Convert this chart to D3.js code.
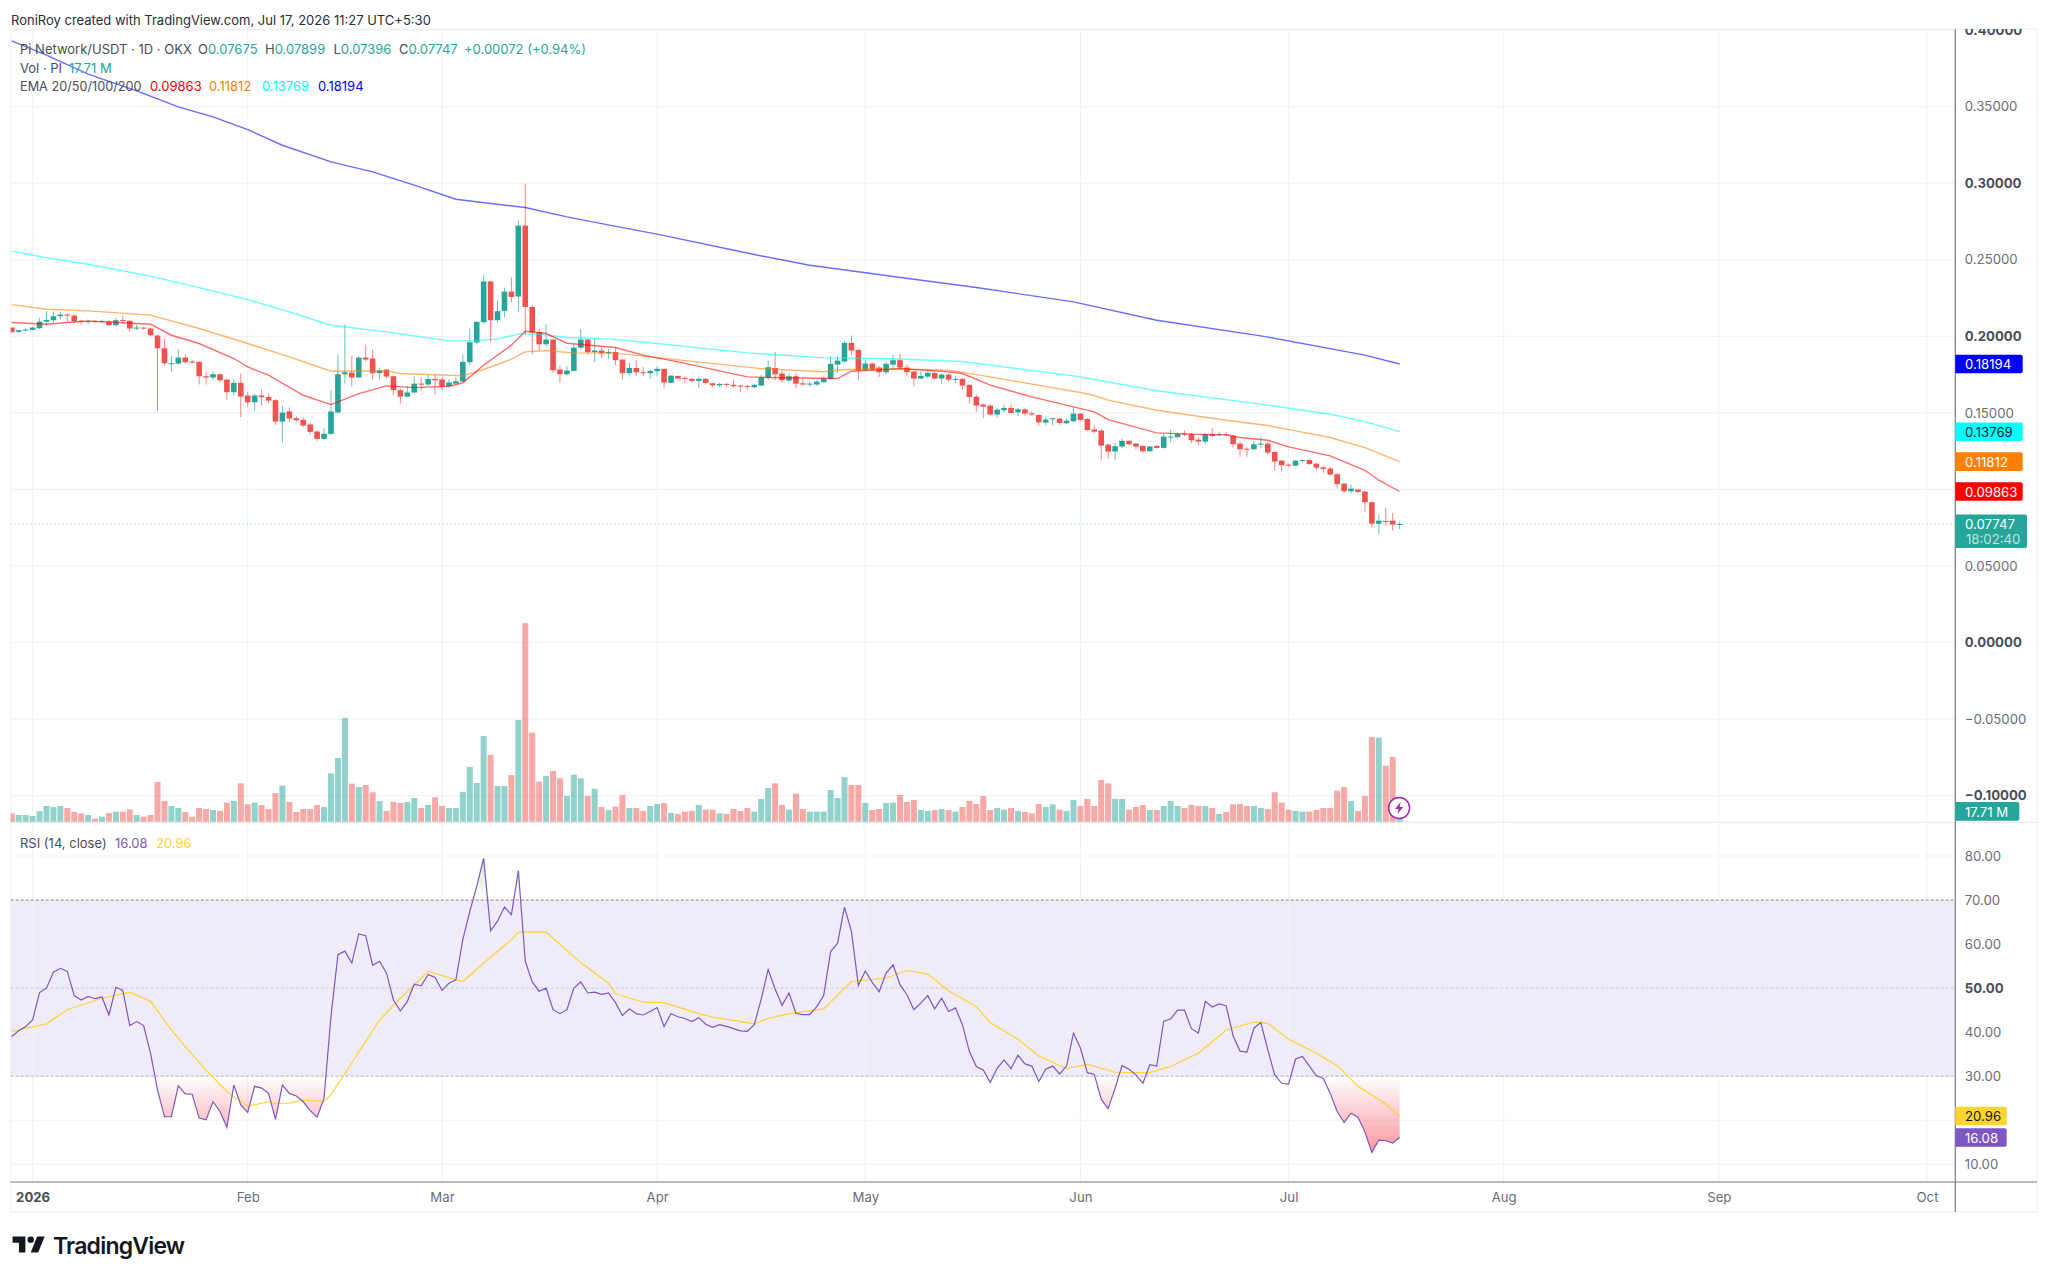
<!DOCTYPE html>
<html>
<head>
<meta charset="utf-8">
<title>Pi Network/USDT daily chart</title>
<script src="https://cdnjs.cloudflare.com/ajax/libs/d3/7.9.0/d3.min.js"></script>
<style>
html,body{margin:0;padding:0;background:#fff;}
svg{display:block;font-family:Inter,"Liberation Sans",sans-serif;}
</style>
</head>
<body>
<svg id="chart" width="2048" height="1278"></svg>
<script>
// Daily candles, 29 Dec 2025 to 17 Jul 2026 (ten per row)
const firstDay = -3; // day offsets are counted from 1 Jan 2026
const opens = [
.2057,.2029,.2040,.2042,.2053,.2096,.2105,.2131,.2142,.2136,
.2101,.2096,.2098,.2096,.2096,.2072,.2107,.2101,.2053,.2057,
.2051,.2005,.1922,.1820,.1822,.1861,.1835,.1833,.1739,.1731,
.1752,.1718,.1635,.1696,.1613,.1569,.1613,.1604,.1583,.1443,
.1509,.1465,.1454,.1424,.1378,.1330,.1363,.1502,.1752,.1763,
.1731,.1861,.1855,.1759,.1783,.1739,.1648,.1606,.1633,.1691,
.1685,.1722,.1718,.1674,.1691,.1704,.1831,.1959,.2092,.2358,
.2105,.2166,.2292,.2260,.2723,.2192,.2029,.1948,.1979,.1783,
.1752,.1774,.1926,.1979,.1896,.1907,.1889,.1898,.1848,.1759,
.1793,.1765,.1759,.1772,.1787,.1696,.1741,.1728,.1722,.1709,
.1722,.1693,.1680,.1689,.1683,.1678,.1676,.1667,.1678,.1730,
.1793,.1757,.1711,.1739,.1693,.1687,.1685,.1700,.1722,.1815,
.1835,.1957,.1911,.1778,.1822,.1796,.1765,.1815,.1844,.1796,
.1770,.1724,.1737,.1761,.1724,.1750,.1717,.1722,.1683,.1606,
.1554,.1547,.1489,.1517,.1532,.1504,.1523,.1497,.1486,.1436,
.1458,.1462,.1432,.1445,.1495,.1460,.1391,.1384,.1293,.1247,
.1280,.1317,.1299,.1284,.1249,.1284,.1271,.1341,.1341,.1364,
.1362,.1325,.1312,.1360,.1356,.1360,.1351,.1299,.1266,.1262,
.1295,.1299,.1245,.1188,.1162,.1155,.1188,.1192,.1168,.1144,
.1136,.1099,.1038,.0988,.0999,.0986,.0916,.0776,.0794,.0796,.07675];
const highs = [
.2061,.2044,.2055,.2061,.2120,.2164,.2162,.2159,.2149,.2142,
.2109,.2109,.2105,.2109,.2105,.2120,.2131,.2105,.2075,.2061,
.2057,.2011,.1985,.1870,.1913,.1881,.1848,.1835,.1765,.1770,
.1757,.1718,.1718,.1757,.1639,.1624,.1652,.1630,.1591,.1546,
.1535,.1478,.1471,.1435,.1387,.1398,.1648,.1881,.2077,.1870,
.1870,.1946,.1913,.1796,.1787,.1744,.1657,.1674,.1739,.1731,
.1750,.1750,.1735,.1718,.1731,.1881,.2051,.2098,.2403,.2362,
.2233,.2318,.2384,.2756,.2998,.2201,.2048,.2077,.1983,.1809,
.1804,.1952,.2048,.1983,.1983,.1924,.1917,.1924,.1852,.1826,
.1843,.1800,.1783,.1804,.1791,.1743,.1743,.1739,.1728,.1735,
.1728,.1696,.1696,.1696,.1717,.1683,.1683,.1687,.1750,.1843,
.1898,.1776,.1757,.1761,.1722,.1704,.1713,.1735,.1870,.1874,
.1970,.2005,.1918,.1844,.1830,.1804,.1833,.1878,.1887,.1815,
.1774,.1770,.1774,.1765,.1757,.1757,.1743,.1728,.1687,.1617,
.1560,.1556,.1534,.1554,.1560,.1534,.1530,.1508,.1491,.1478,
.1469,.1467,.1460,.1539,.1499,.1465,.1417,.1395,.1295,.1304,
.1330,.1321,.1303,.1288,.1282,.1286,.1365,.1391,.1373,.1384,
.1369,.1340,.1369,.1399,.1375,.1377,.1358,.1314,.1277,.1312,
.1343,.1308,.1249,.1192,.1168,.1190,.1197,.1197,.1173,.1151,
.1147,.1108,.1042,.1031,.1005,.0992,.0925,.0835,.0879,.0846,.07899];
const lows = [
.2022,.2022,.2033,.2038,.2048,.2070,.2088,.2109,.2088,.2088,
.2079,.2083,.2092,.2092,.2066,.2066,.2083,.2029,.2040,.2044,
.2001,.1511,.1811,.1765,.1815,.1820,.1822,.1685,.1685,.1718,
.1700,.1587,.1613,.1472,.1535,.1515,.1548,.1561,.1421,.1306,
.1439,.1439,.1406,.1360,.1317,.1326,.1356,.1498,.1691,.1674,
.1726,.1835,.1713,.1718,.1724,.1615,.1561,.1602,.1628,.1648,
.1674,.1620,.1648,.1665,.1685,.1696,.1811,.1946,.2083,.1961,
.2088,.2125,.2223,.2157,.2011,.1881,.1909,.1935,.1761,.1696,
.1743,.1770,.1913,.1881,.1831,.1857,.1852,.1813,.1717,.1743,
.1739,.1739,.1722,.1743,.1665,.1691,.1722,.1696,.1696,.1661,
.1685,.1669,.1669,.1669,.1665,.1639,.1648,.1661,.1674,.1717,
.1713,.1696,.1704,.1661,.1678,.1669,.1678,.1696,.1717,.1761,
.1830,.1874,.1717,.1774,.1774,.1735,.1752,.1787,.1787,.1739,
.1674,.1722,.1728,.1717,.1691,.1700,.1696,.1648,.1561,.1508,
.1465,.1478,.1469,.1504,.1495,.1478,.1482,.1478,.1417,.1417,
.1417,.1423,.1428,.1441,.1445,.1380,.1364,.1190,.1199,.1190,
.1269,.1286,.1260,.1238,.1247,.1267,.1267,.1308,.1334,.1347,
.1303,.1290,.1299,.1338,.1347,.1351,.1273,.1212,.1212,.1258,
.1269,.1229,.1123,.1116,.1147,.1153,.1177,.1160,.1129,.1108,
.1092,.1007,.0973,.0973,.0979,.0855,.0750,.0709,.0763,.0731,.07396];
const closes = [
.2027,.2040,.2044,.2057,.2096,.2107,.2131,.2142,.2138,.2098,
.2094,.2098,.2096,.2098,.2072,.2105,.2101,.2051,.2057,.2051,
.2007,.1922,.1824,.1824,.1861,.1831,.1831,.1739,.1731,.1752,
.1713,.1635,.1696,.1606,.1569,.1613,.1602,.1580,.1443,.1502,
.1463,.1452,.1417,.1376,.1330,.1363,.1509,.1752,.1765,.1731,
.1861,.1848,.1759,.1778,.1737,.1648,.1606,.1633,.1691,.1685,
.1722,.1713,.1674,.1698,.1707,.1833,.1961,.2094,.2358,.2105,
.2164,.2292,.2257,.2723,.2192,.2027,.1948,.1979,.1778,.1752,
.1776,.1926,.1979,.1896,.1907,.1889,.1898,.1844,.1759,.1793,
.1765,.1759,.1774,.1787,.1698,.1743,.1724,.1722,.1709,.1722,
.1696,.1680,.1689,.1683,.1674,.1672,.1674,.1683,.1733,.1798,
.1752,.1713,.1739,.1691,.1685,.1691,.1704,.1724,.1820,.1841,
.1957,.1907,.1778,.1822,.1783,.1765,.1820,.1844,.1796,.1765,
.1724,.1741,.1761,.1724,.1750,.1717,.1722,.1678,.1604,.1548,
.1541,.1489,.1521,.1532,.1499,.1523,.1495,.1489,.1438,.1456,
.1465,.1434,.1449,.1495,.1454,.1388,.1377,.1286,.1247,.1282,
.1317,.1295,.1280,.1249,.1280,.1271,.1345,.1345,.1362,.1358,
.1321,.1312,.1360,.1349,.1360,.1356,.1295,.1262,.1262,.1295,
.1299,.1240,.1182,.1158,.1155,.1188,.1192,.1166,.1142,.1134,
.1097,.1034,.0988,.1005,.0983,.0916,.0776,.0796,.0792,.0770,.07747];

// Daily traded volume in millions of PI
const volumes = [
15.3,12.4,12.4,10.6,19.5,28.3,26.6,28.3,24.8,17.7,
15.3,12.4,5.9,9.4,15.9,18.3,18.3,22.4,12.4,9.4,
12.4,70.8,37.2,28.3,24.8,17.7,9.4,24.8,23.0,21.2,
19.5,34.2,37.2,68.4,31.3,34.2,30.1,23.0,51.3,64.3,
35.4,17.7,23.0,23.0,30.1,26.6,86.1,113.3,184.1,67.9,
62.0,65.5,52.5,37.2,19.5,35.4,33.6,35.4,42.5,24.8,
30.1,43.7,28.3,24.8,24.8,53.1,97.4,69.0,152.2,118.6,
63.7,63.7,83.2,180.5,352.0,158.1,71.4,81.4,90.3,77.3,
46.0,83.8,77.3,46.0,59.0,26.6,21.2,27.1,47.8,24.8,
24.8,19.5,28.3,31.9,33.6,15.9,14.2,18.3,19.5,30.1,
21.8,21.8,15.3,14.2,23.0,19.5,24.8,18.3,40.7,60.2,
68.4,30.1,21.8,50.2,23.0,18.3,18.3,18.3,56.6,42.5,
79.7,65.5,65.5,33.6,21.2,23.0,33.6,34.2,47.8,35.4,
38.9,21.2,19.5,21.2,23.0,21.2,18.3,26.6,37.2,31.9,
46.0,21.2,24.8,21.8,24.8,19.5,17.7,15.3,31.9,26.6,
31.3,21.8,19.5,38.9,28.3,40.7,28.3,74.3,68.4,40.7,
40.7,21.8,26.6,30.1,21.2,21.2,28.3,37.2,28.3,24.8,
30.7,28.3,28.3,24.8,14.2,17.7,31.3,31.9,28.3,28.3,
24.8,23.0,52.5,34.2,21.8,19.5,18.3,18.3,21.2,24.8,
24.8,55.5,62.0,37.2,19.5,46.0,150.5,149.3,99.7,115.1,17.71];

// RSI (14, close), one reading per candle
const rsi = [
39.0,40.3,41.3,42.8,49.0,50.0,53.6,54.5,53.8,48.3,
47.3,48.1,47.6,48.0,43.9,50.2,49.5,41.5,42.4,41.5,
35.2,26.9,20.8,20.8,27.8,26.0,25.9,20.5,20.1,24.2,
22.0,18.4,28.0,23.5,21.8,27.7,27.3,26.1,20.2,28.0,
26.1,25.5,24.2,22.2,20.7,25.0,43.6,57.6,58.4,55.7,
62.3,61.9,55.2,56.1,53.4,47.3,44.8,47.0,50.9,50.5,
53.1,52.4,49.5,51.1,51.9,61.0,67.4,73.1,79.5,63.0,
65.2,68.4,66.7,76.7,56.1,51.4,49.3,50.0,45.1,44.2,
45.1,50.0,51.4,48.9,49.1,48.6,48.9,46.7,43.8,45.3,
44.2,43.9,44.7,45.6,41.3,44.2,43.5,43.1,42.4,43.3,
41.8,41.1,41.7,41.3,40.8,40.3,40.2,41.7,47.5,54.2,
49.8,46.1,48.9,44.3,44.0,44.0,45.8,48.3,58.3,60.2,
68.4,62.9,50.6,53.9,51.3,49.2,53.4,55.3,50.8,48.5,
45.1,46.6,48.3,45.3,47.7,44.7,45.5,41.7,35.6,32.2,
31.4,28.6,31.8,33.7,31.7,34.8,32.8,32.3,28.8,31.6,
32.3,30.5,32.3,39.8,36.4,30.8,30.4,24.8,22.6,27.3,
32.4,31.6,30.3,28.4,32.6,32.3,42.5,43.0,45.0,45.0,
40.8,39.8,47.0,45.7,46.4,46.0,39.2,35.7,35.5,40.9,
42.2,36.0,30.3,28.4,28.2,33.9,34.5,32.3,30.1,29.5,
26.1,22.0,19.5,21.6,20.7,17.4,12.7,15.5,15.4,14.8,16.08];

// Moving averages, read at the days listed beside them
const ema200Days = [-3,2,8,15,21,26,31,36,43,49,55,61,66,71,77,85,90,104,112,127,136,150,162,177,192,197];
const ema200 = [.3930,.3836,.3712,.3603,.3499,.3433,.3350,.3248,.3139,.3074,.2987,.2895,.2867,.2841,.2780,.2710,.2667,.2534,.2464,.2373,.2319,.2225,.2105,.2003,.1877,.18194];
const ema100Days = [-3,2,8,17,24,31,37,43,51,60,64,67,70,73,77,83,90,103,114,124,134,151,153,162,177,187,192,197];
const ema100 = [.2556,.2514,.2471,.2393,.2318,.2240,.2160,.2072,.2029,.1970,.1970,.1983,.2014,.2014,.1992,.1983,.1953,.1892,.1859,.1853,.1835,.1735,.1718,.1644,.1557,.1491,.1443,.13769];
const ema50Days = [-3,2,8,17,24,31,37,43,51,53,62,65,69,71,74,78,84,90,105,114,117,125,132,138,151,153,155,162,172,178,182,187,192,197];
const ema50 = [.2207,.2177,.2166,.2138,.2051,.1953,.1866,.1772,.1774,.1757,.1742,.1783,.1851,.1898,.1907,.1892,.1890,.1861,.1789,.1768,.1783,.1787,.1779,.1735,.1633,.1613,.1583,.1517,.1452,.1417,.1382,.1339,.1273,.11812];
const ema20Days = [-3,2,8,17,20,24,29,31,34,39,43,47,51,55,60,62,65,69,71,74,77,84,88,93,103,106,116,118,125,132,134,138,144,150,153,155,162,167,172,174,178,181,187,192,194,197];
const ema20 = [.2090,.2079,.2101,.2079,.2007,.1953,.1855,.1800,.1746,.1615,.1554,.1626,.1676,.1665,.1674,.1696,.1811,.1942,.2033,.2018,.1955,.1927,.1877,.1833,.1735,.1731,.1724,.1772,.1789,.1768,.1757,.1681,.1604,.1539,.1506,.1456,.1369,.1361,.1356,.1339,.1321,.1278,.1219,.1125,.1060,.09863];
const rsiMaDays = [-3,2,5,10,14,17,20,22,25,28,31,34,35,37,39,42,43,46,50,53,57,62,65,69,70,74,79,83,84,88,91,96,98,104,106,109,114,118,123,126,129,132,136,138,142,145,149,152,156,161,164,168,172,176,178,181,185,188,191,195,197];
const rsiMa = [40.2,41.9,45.1,47.7,49.1,47.0,40.5,36.7,31.4,26.5,23.2,24.2,23.8,23.9,24.6,24.3,25.8,33.0,42.8,47.7,53.8,51.5,55.7,61.0,62.7,62.7,55.8,51.1,48.7,46.8,46.7,44.2,43.4,41.9,43.1,44.2,45.3,51.5,52.3,54.0,53.2,49.4,45.8,42.2,38.4,34.6,31.7,32.7,30.9,30.8,32.2,35.2,40.5,42.3,42.0,38.4,35.2,32.4,27.7,23.7,20.96];

// Axis labels
const priceTicks = [.40,.35,.30,.25,.20,.15,.10,.05,0,-.05,-.10];
const boldPriceTicks = [.40,.30,.20,0,-.10];
const rsiTicks = [80,70,60,50,40,30,20,10];
const timeTicks = ["2026-01-01","2026-02-01","2026-03-01","2026-04-01","2026-05-01","2026-06-01","2026-07-01","2026-08-01","2026-09-01","2026-10-01"];
const timeLabels = ["2026","Feb","Mar","Apr","May","Jun","Jul","Aug","Sep","Oct"];

// Legend text
const headerLine = "RoniRoy created with TradingView.com, Jul 17, 2026 11:27 UTC+5:30";
const symbolLine = "Pi Network/USDT · 1D · OKX";
const ohlcLabels = [["O","0.07675",198],["H","0.07899",265],["L","0.07396",333.5],["C","0.07747",399]];
const changeLabel = "+0.00072 (+0.94%)";

const UP = "#26a69a", DOWN = "#ef5350", TICK_TEXT = "#6a6d78", BOLD_TEXT = "#4a4d58";
const GRID = "#eff3f7", LINE = "#787b86";
const AXIS_FONT = 13.2;
const paneLeft = 10.7, paneRight = 2037, axisX = 1955.3, paneTop = 29, paneDivider = 822.3, timeAxisY = 1182, paneBottom = 1212;

const dayZero = Date.UTC(2026, 0, 1);
const dateOf = d => d3.utcDay.offset(new Date(dayZero), d);
const x = d3.scaleUtc().domain([new Date(dayZero), new Date(Date.UTC(2026, 9, 1))]).range([32.6, 1927]);
const yPrice = d3.scaleLinear().domain([-.10, .35]).range([795.6, 106.65]);
const yVolume = d3.scaleLinear().domain([0, 100]).range([822, 765.5]);
const yRsi = d3.scaleLinear().domain([10, 80]).range([1164.3, 856]);

const candles = opens.map((o, i) => ({
  date: dateOf(firstDay + i), o, h: highs[i], l: lows[i], c: closes[i],
  v: volumes[i], rsi: rsi[i], up: closes[i] >= o
}));

const svg = d3.select("#chart");
const defs = svg.append("defs");
defs.append("clipPath").attr("id", "plotClip").append("rect")
  .attr("x", paneLeft).attr("y", paneTop).attr("width", axisX - paneLeft).attr("height", timeAxisY - paneTop);
defs.append("clipPath").attr("id", "axisClipLocal").append("rect")
  .attr("x", 0).attr("y", paneTop).attr("width", paneRight - axisX).attr("height", paneBottom - paneTop);
defs.append("clipPath").attr("id", "belowThirty").append("rect")
  .attr("x", paneLeft).attr("y", yRsi(30)).attr("width", axisX - paneLeft).attr("height", yRsi(10) - yRsi(30));
defs.append("clipPath").attr("id", "aboveSeventy").append("rect")
  .attr("x", paneLeft).attr("y", yRsi(80) - 6).attr("width", axisX - paneLeft).attr("height", yRsi(70) - yRsi(80) + 6);

const lowGrad = defs.append("linearGradient").attr("id", "rsiLow")
  .attr("gradientUnits", "userSpaceOnUse").attr("x1", 0).attr("x2", 0).attr("y1", yRsi(30)).attr("y2", yRsi(12));
lowGrad.append("stop").attr("offset", 0).attr("stop-color", "#f23645").attr("stop-opacity", 0);
lowGrad.append("stop").attr("offset", 1).attr("stop-color", "#f23645").attr("stop-opacity", .55);
const highGrad = defs.append("linearGradient").attr("id", "rsiHigh")
  .attr("gradientUnits", "userSpaceOnUse").attr("x1", 0).attr("x2", 0).attr("y1", yRsi(70)).attr("y2", yRsi(80));
highGrad.append("stop").attr("offset", 0).attr("stop-color", "#4caf50").attr("stop-opacity", 0);
highGrad.append("stop").attr("offset", 1).attr("stop-color", "#4caf50").attr("stop-opacity", .3);

// Page background
svg.append("rect").attr("width", 2048).attr("height", 1278).attr("fill", "#fff");

// Pane frame
svg.append("rect").attr("x", paneLeft).attr("y", paneTop).attr("width", paneRight - paneLeft).attr("height", paneBottom - paneTop)
  .attr("fill", "#fff").attr("stroke", "#f1f3f6").attr("stroke-width", 1.5);

const plot = svg.append("g").attr("clip-path", "url(#plotClip)");

// RSI band behind the grid
plot.append("rect").attr("x", paneLeft).attr("y", yRsi(70)).attr("width", axisX - paneLeft)
  .attr("height", yRsi(30) - yRsi(70)).attr("fill", "#7e57c2").attr("fill-opacity", .12);

// Vertical grid through all panes
plot.append("g").selectAll("line").data(timeTicks).join("line")
  .attr("x1", d => x(new Date(d))).attr("x2", d => x(new Date(d)))
  .attr("y1", paneTop).attr("y2", timeAxisY)
  .attr("stroke", GRID).attr("stroke-width", 1.2);

// Horizontal grid, price and RSI panes
plot.append("g").selectAll("line").data(priceTicks).join("line")
  .attr("x1", paneLeft).attr("x2", axisX).attr("y1", d => yPrice(d)).attr("y2", d => yPrice(d))
  .attr("stroke", GRID).attr("stroke-width", 1.2);
plot.append("g").selectAll("line").data(rsiTicks.filter(t => ![70, 50, 30].includes(t))).join("line")
  .attr("x1", paneLeft).attr("x2", axisX).attr("y1", d => yRsi(d)).attr("y2", d => yRsi(d))
  .attr("stroke", GRID).attr("stroke-width", 1.2);

// Overbought, middle and oversold levels
[[70, "#787b86", .9], [50, "#787b86", .28], [30, "#787b86", .55]].forEach(([v, c, o]) => {
  plot.append("line").attr("x1", paneLeft).attr("x2", axisX).attr("y1", yRsi(v)).attr("y2", yRsi(v))
    .attr("stroke", c).attr("stroke-opacity", o).attr("stroke-dasharray", "3 2");
});

// Volume bars
plot.append("g").selectAll("rect").data(candles).join("rect")
  .attr("x", d => x(d.date) - 3).attr("width", 6)
  .attr("y", d => yVolume(d.v)).attr("height", d => yVolume(0) - yVolume(d.v))
  .attr("fill", d => d.up ? UP : DOWN).attr("fill-opacity", .5);

// Last-price dotted line
plot.append("line").attr("x1", paneLeft).attr("x2", axisX)
  .attr("y1", yPrice(closes[closes.length - 1])).attr("y2", yPrice(closes[closes.length - 1]))
  .attr("stroke", UP).attr("stroke-opacity", .55).attr("stroke-dasharray", "1 3");

// Candles
const cg = plot.append("g").selectAll("g").data(candles).join("g");
cg.append("line")
  .attr("x1", d => x(d.date)).attr("x2", d => x(d.date))
  .attr("y1", d => yPrice(d.h)).attr("y2", d => yPrice(d.l))
  .attr("stroke", d => d.up ? UP : DOWN).attr("stroke-opacity", .7);
cg.append("rect")
  .attr("x", d => x(d.date) - 2.8).attr("width", 5.6)
  .attr("y", d => yPrice(Math.max(d.o, d.c)))
  .attr("height", d => Math.max(1, Math.abs(yPrice(d.o) - yPrice(d.c))))
  .attr("fill", d => d.up ? UP : DOWN);

// EMA lines
const priceLine = d3.line().x(d => x(dateOf(d[0]))).y(d => yPrice(d[1]));
[[ema200Days, ema200, "#0000ff"], [ema100Days, ema100, "#00ffff"],
 [ema50Days, ema50, "#ff8000"], [ema20Days, ema20, "#ff0000"]].forEach(([days, vals, col]) => {
  plot.append("path").attr("d", priceLine(days.map((d, i) => [d, vals[i]])))
    .attr("fill", "none").attr("stroke", col).attr("stroke-opacity", .58).attr("stroke-width", 1.4);
});

// RSI fills and lines
const rsiArea30 = d3.area().x(d => x(d.date)).y0(yRsi(30)).y1(d => yRsi(d.rsi));
const rsiArea70 = d3.area().x(d => x(d.date)).y0(yRsi(70)).y1(d => yRsi(d.rsi));
plot.append("path").attr("d", rsiArea30(candles)).attr("fill", "url(#rsiLow)").attr("clip-path", "url(#belowThirty)");
plot.append("path").attr("d", rsiArea70(candles)).attr("fill", "url(#rsiHigh)").attr("clip-path", "url(#aboveSeventy)");
plot.append("path")
  .attr("d", d3.line().x(d => x(dateOf(d[0]))).y(d => yRsi(d[1]))(rsiMaDays.map((d, i) => [d, rsiMa[i]])))
  .attr("fill", "none").attr("stroke", "#ffd32f").attr("stroke-width", 1.2);
plot.append("path")
  .attr("d", d3.line().x(d => x(d.date)).y(d => yRsi(d.rsi))(candles))
  .attr("fill", "none").attr("stroke", "#7e57c2").attr("stroke-width", 1.2);

// Replay badge on the last volume bar
const badge = svg.append("g").attr("transform", `translate(${x(dateOf(197)) - 0.5},808)`);
badge.append("circle").attr("r", 10.5).attr("fill", "#fff").attr("stroke", "#9c27b0").attr("stroke-width", 1.5);
badge.append("path").attr("d", "M1.5 -6 L-4 1 L-0.5 1 L-1.5 6 L4 -1 L0.5 -1 Z").attr("fill", "#9c27b0");

// Pane divider and axis rules
svg.append("line").attr("x1", paneLeft).attr("x2", paneRight).attr("y1", paneDivider).attr("y2", paneDivider)
  .attr("stroke", "#e9ecf1").attr("stroke-width", 1.2);
svg.append("line").attr("x1", paneLeft).attr("x2", paneRight).attr("y1", timeAxisY).attr("y2", timeAxisY)
  .attr("stroke", LINE).attr("stroke-width", 1.2);
svg.append("line").attr("x1", axisX).attr("x2", axisX).attr("y1", paneTop).attr("y2", paneBottom)
  .attr("stroke", LINE).attr("stroke-width", 1.2);

const fmtPrice = d => (d < 0 ? "−" : "") + Math.abs(d).toFixed(5);
const isBoldPrice = d => boldPriceTicks.some(b => Math.abs(b - d) < 1e-9);

// Price axis
const priceAxis = svg.append("g").attr("transform", `translate(${axisX},0)`).attr("clip-path", "url(#axisClipLocal)")
  .call(d3.axisRight(yPrice).tickValues(priceTicks).tickFormat(fmtPrice).tickSize(0).tickPadding(9.5));
priceAxis.select(".domain").remove();
priceAxis.selectAll("text").attr("font-family", "Inter").attr("font-size", AXIS_FONT)
  .attr("font-weight", d => isBoldPrice(d) ? 700 : 400)
  .attr("fill", d => isBoldPrice(d) ? BOLD_TEXT : TICK_TEXT);

// RSI axis
const rsiAxis = svg.append("g").attr("transform", `translate(${axisX},0)`)
  .call(d3.axisRight(yRsi).tickValues(rsiTicks).tickFormat(d3.format(".2f")).tickSize(0).tickPadding(9.5));
rsiAxis.select(".domain").remove();
rsiAxis.selectAll("text").attr("font-family", "Inter").attr("font-size", AXIS_FONT)
  .attr("font-weight", d => d === 50 ? 700 : 400)
  .attr("fill", d => d === 50 ? BOLD_TEXT : TICK_TEXT);

// Time axis
const timeAxis = svg.append("g").attr("transform", `translate(0,${timeAxisY})`)
  .call(d3.axisBottom(x).tickValues(timeTicks.map(d => new Date(d)))
    .tickFormat((d, i) => timeLabels[i]).tickSize(0).tickPadding(11));
timeAxis.select(".domain").remove();
timeAxis.selectAll("text").attr("font-family", "Inter").attr("font-size", AXIS_FONT)
  .attr("font-weight", (d, i) => i === 0 ? 700 : 400)
  .attr("fill", (d, i) => i === 0 ? BOLD_TEXT : TICK_TEXT);

// Value tags on the price scale
const tagText = (t, tx, ty, col, size, op) => svg.append("text").attr("x", tx).attr("y", ty)
  .attr("dominant-baseline", "central").attr("font-family", "Inter").attr("font-size", size || AXIS_FONT)
  .attr("fill", col).attr("fill-opacity", op || 1).text(t);
const tag = (tx1, ty1, ty2, fill, text, col) => {
  svg.append("path")
    .attr("d", `M${axisX} ${ty1} H${tx1 - 2} Q${tx1} ${ty1} ${tx1} ${ty1 + 2} V${ty2 - 2} Q${tx1} ${ty2} ${tx1 - 2} ${ty2} H${axisX} Z`)
    .attr("fill", fill);
  tagText(text, 1965, (ty1 + ty2) / 2 + .3, col);
};
[[ema200[ema200.length - 1], "#0000ff", "#fff"], [ema100[ema100.length - 1], "#00ffff", "#131722"],
 [ema50[ema50.length - 1], "#ff8000", "#fff"], [ema20[ema20.length - 1], "#ff0000", "#fff"]]
  .forEach(([v, fill, col]) => {
    const yy = yPrice(v);
    tag(2022.7, yy - 9.3, yy + 9.3, fill, v.toFixed(5), col);
  });
const lastY = yPrice(closes[closes.length - 1]);
svg.append("path")
  .attr("d", `M${axisX} ${lastY - 9.3} H2025 Q2027 ${lastY - 9.3} 2027 ${lastY - 7.3} V${lastY + 22} Q2027 ${lastY + 24} 2025 ${lastY + 24} H${axisX} Z`)
  .attr("fill", UP);
tagText(closes[closes.length - 1].toFixed(5), 1965, lastY + .3, "#fff");
tagText("18:02:40", 1966, lastY + 15.5, "#fff", AXIS_FONT, .72);
tag(2019.3, 802, 820.7, UP, d3.format(".2f")(volumes[volumes.length - 1]) + " M", "#fff");
tag(2006.7, yRsi(rsiMa[rsiMa.length - 1]) - 9.3, yRsi(rsiMa[rsiMa.length - 1]) + 9.3, "#ffd32f", rsiMa[rsiMa.length - 1].toFixed(2), "#131722");
tag(2006.7, yRsi(rsi[rsi.length - 1]) - 9.3, yRsi(rsi[rsi.length - 1]) + 9.3, "#7e57c2", rsi[rsi.length - 1].toFixed(2), "#fff");

// Legends
const label = (t, tx, ty, col, size) => svg.append("text").attr("x", tx).attr("y", ty)
  .attr("dominant-baseline", "central").attr("font-family", "Inter").attr("font-size", size || 13)
  .attr("fill", col).text(t);
const LEGEND = "#4a4d58";
label(headerLine, 11, 20, "#2a2e39", 13);
label(symbolLine, 20, 49, LEGEND);
ohlcLabels.forEach(([k, v, lx]) => {
  // Letter and value flow as one run, so each value sits right after its letter
  const run = label(k, lx, 49, LEGEND);
  run.append("tspan").attr("fill", UP).text(v);
});
label(changeLabel, 464, 49, UP);
label("Vol · PI", 20, 68, LEGEND);
label("17.71 M", 69, 68, UP);
label("EMA 20/50/100/200", 20, 86, LEGEND, 12.7);
label(ema20[ema20.length - 1].toFixed(5), 150, 86, "#ff0000");
label(ema50[ema50.length - 1].toFixed(5), 209, 86, "#ff8000");
label(ema100[ema100.length - 1].toFixed(5), 262, 86, "#00ffff");
label(ema200[ema200.length - 1].toFixed(5), 318, 86, "#0000ff");
label("RSI (14, close)", 20, 843, LEGEND);
label(rsi[rsi.length - 1].toFixed(2), 115, 843, "#7e57c2");
label(rsiMa[rsiMa.length - 1].toFixed(2), 156, 843, "#ffd32f");

// Wordmark
svg.append("path").attr("transform", "translate(10.4,1230) scale(1.07)")
  .attr("d", "M14 6H2v6h6v9h6V6Zm12 15h-7l6-15h7l-6 15Zm-7-9a3 3 0 1 0 0-6 3 3 0 0 0 0 6Z")
  .attr("fill", "#131722");
svg.append("text").attr("x", 53).attr("y", 1245.5).attr("dominant-baseline", "central")
  .attr("font-family", "Inter").attr("font-size", 23).attr("font-weight", 600).attr("letter-spacing", -.8)
  .attr("fill", "#131722").text("TradingView");
</script>
</body>
</html>
